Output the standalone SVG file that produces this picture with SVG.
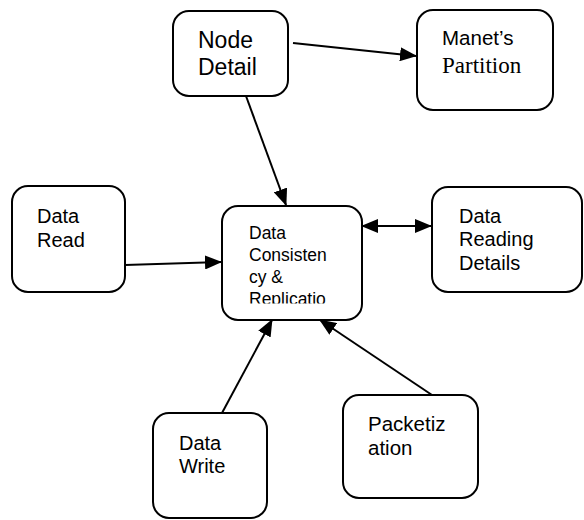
<svg xmlns="http://www.w3.org/2000/svg" width="584" height="520" viewBox="0 0 584 520">
<style>
.box{fill:#fff;stroke:#000;stroke-width:2}
.t{font-family:"Liberation Sans",Arial,sans-serif;fill:#000}
.s{font-family:"Liberation Serif","Times New Roman",serif;fill:#000}
.ln{stroke:#000;stroke-width:2;fill:none}
</style>
<defs>
<marker id="ah" markerUnits="userSpaceOnUse" markerWidth="18" markerHeight="14" refX="16" refY="7" orient="auto-start-reverse" viewBox="0 0 18 14">
<path d="M0,0 L17,7 L0,14 Z" fill="#000"/>
</marker>
<clipPath id="cc"><rect x="222" y="205" width="140" height="98.5"/></clipPath>
</defs>
<g id="connectors">
<line class="ln" x1="293" y1="43" x2="416" y2="56" marker-end="url(#ah)"/>
<line class="ln" x1="246" y1="96" x2="286" y2="205" marker-end="url(#ah)"/>
<line class="ln" x1="125" y1="265" x2="221" y2="262" marker-end="url(#ah)"/>
<line class="ln" x1="362" y1="226" x2="431" y2="226" marker-start="url(#ah)" marker-end="url(#ah)"/>
<line class="ln" x1="222" y1="413" x2="272" y2="320" marker-end="url(#ah)"/>
<line class="ln" x1="432" y1="395" x2="320" y2="320" marker-end="url(#ah)"/>
</g>
<g id="node-detail">
<rect class="box" x="173" y="11" width="115" height="85" rx="16"/>
<text class="t" font-size="23" x="198" y="48">Node</text>
<text class="t" font-size="23" x="198" y="75">Detail</text>
</g>
<g id="manets-partition">
<rect class="box" x="417" y="10" width="136" height="100" rx="16"/>
<text class="t" font-size="20.5" x="442" y="45">Manet’s</text>
<text class="s" font-size="23" x="442" y="73">Partition</text>
</g>
<g id="data-read">
<rect class="box" x="12" y="186" width="113" height="106" rx="16"/>
<text class="t" font-size="20" x="37" y="223">Data</text>
<text class="t" font-size="20" x="37" y="247">Read</text>
</g>
<g id="data-consistency">
<rect class="box" x="222" y="206" width="140" height="114" rx="16"/>
<g clip-path="url(#cc)">
<text class="t" font-size="17.5" x="249" y="239">Data</text>
<text class="t" font-size="17.5" x="249" y="261">Consisten</text>
<text class="t" font-size="17.5" x="249" y="283">cy &amp;</text>
<text class="t" font-size="17.5" x="249" y="304.5">Replicatio</text>
</g>
</g>
<g id="data-reading-details">
<rect class="box" x="432" y="187" width="150" height="105" rx="16"/>
<text class="t" font-size="20" x="459" y="223">Data</text>
<text class="t" font-size="20" x="459" y="246">Reading</text>
<text class="t" font-size="20" x="459" y="270">Details</text>
</g>
<g id="data-write">
<rect class="box" x="153" y="413" width="114" height="105" rx="16"/>
<text class="t" font-size="20" x="179" y="450">Data</text>
<text class="t" font-size="20" x="179" y="473">Write</text>
</g>
<g id="packetization">
<rect class="box" x="343" y="395" width="135" height="103" rx="16"/>
<text class="t" font-size="20.5" x="368" y="431">Packetiz</text>
<text class="t" font-size="20.5" x="368" y="455">ation</text>
</g>
</svg>
